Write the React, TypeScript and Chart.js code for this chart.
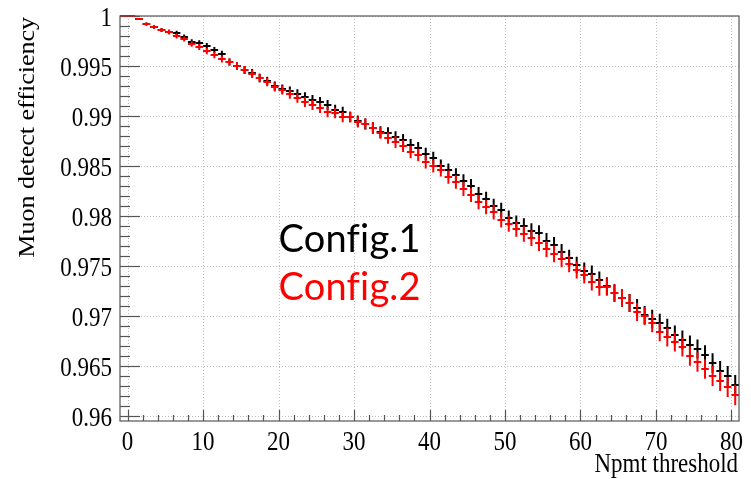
import React, { useEffect, useRef } from "react";
import { Chart, registerables } from "chart.js";

Chart.register(...registerables);

// Npmt threshold bin centres
const binCenters = [
  -0.5, 0.5, 1.5, 2.5, 3.5, 4.5, 5.5, 6.5, 7.5, 8.5, 9.5, 10.5, 11.5, 12.5, 13.5, 14.5,
  15.5, 16.5, 17.5, 18.5, 19.5, 20.5, 21.5, 22.5, 23.5, 24.5, 25.5, 26.5, 27.5, 28.5,
  29.5, 30.5, 31.5, 32.5, 33.5, 34.5, 35.5, 36.5, 37.5, 38.5, 39.5, 40.5, 41.5, 42.5,
  43.5, 44.5, 45.5, 46.5, 47.5, 48.5, 49.5, 50.5, 51.5, 52.5, 53.5, 54.5, 55.5, 56.5,
  57.5, 58.5, 59.5, 60.5, 61.5, 62.5, 63.5, 64.5, 65.5, 66.5, 67.5, 68.5, 69.5, 70.5,
  71.5, 72.5, 73.5, 74.5, 75.5, 76.5, 77.5, 78.5, 79.5, 80.5,
];

// Config.1 (black) efficiency
const config1 = [
  1, 1, 0.9997, 0.9992, 0.9989, 0.9986, 0.9984, 0.9983, 0.9979, 0.9974, 0.9973, 0.997,
  0.9966, 0.9962, 0.9954, 0.995, 0.9946, 0.9943, 0.9938, 0.9935, 0.993, 0.9927, 0.9925,
  0.9922, 0.9919, 0.9916, 0.9914, 0.9911, 0.9906, 0.9904, 0.9899, 0.9895, 0.9892, 0.9888,
  0.9884, 0.9883, 0.9879, 0.9876, 0.9871, 0.9868, 0.9862, 0.9858, 0.985, 0.9846, 0.9841,
  0.9835, 0.983, 0.9822, 0.9817, 0.981, 0.9806, 0.9798, 0.9793, 0.979, 0.9785, 0.9783,
  0.9775, 0.9771, 0.9764, 0.9758, 0.9751, 0.9745, 0.9742, 0.9736, 0.973, 0.9723, 0.9718,
  0.9713, 0.9708, 0.9701, 0.9697, 0.9693, 0.9688, 0.9681, 0.9676, 0.9671, 0.9667, 0.9661,
  0.9653, 0.9645, 0.964, 0.9631,
];

// Config.2 (red) efficiency
const config2 = [
  1, 1, 0.9997, 0.9992, 0.9989, 0.9986, 0.9984, 0.998, 0.9977, 0.9972, 0.9969, 0.9965,
  0.9961, 0.9957, 0.9954, 0.995, 0.9946, 0.9942, 0.9938, 0.9934, 0.9929, 0.9926, 0.9922,
  0.9918, 0.9914, 0.9911, 0.9908, 0.9904, 0.9903, 0.9899, 0.9899, 0.9894, 0.9892, 0.9888,
  0.9883, 0.9878, 0.9874, 0.987, 0.9864, 0.9861, 0.9854, 0.985, 0.9846, 0.9839, 0.9834,
  0.9827, 0.9821, 0.9814, 0.9809, 0.9804, 0.9796, 0.9792, 0.9787, 0.9782, 0.9778, 0.9773,
  0.9767, 0.9762, 0.9757, 0.9752, 0.9746, 0.9741, 0.9734, 0.9729, 0.9729, 0.9723, 0.9718,
  0.9713, 0.9704, 0.97, 0.9693, 0.9684, 0.9679, 0.9674, 0.9669, 0.966, 0.9654, 0.9647,
  0.964, 0.9635, 0.9629, 0.9621,
];

const xTicks = [0, 10, 20, 30, 40, 50, 60, 70, 80];
const yTicks = [0.96, 0.965, 0.97, 0.975, 0.98, 0.985, 0.99, 0.995, 1];
const xTickLabels = ["0", "10", "20", "30", "40", "50", "60", "70", "80"];
const yTickLabels = ["0.96", "0.965", "0.97", "0.975", "0.98", "0.985", "0.99", "0.995", "1"];

const xTitle = "Npmt threshold";
const yTitle = "Muon detect efficiency";

const seriesNames = ["Config.1", "Config.2"];
const seriesColors = ["#000000", "#ff0000"];
const labelPositions = [
  { x: 20, y: 0.9764 },
  { x: 20, y: 0.9716 },
];

const N_EVENTS = 35000; // binomial error sample size
const BIN_HALF_WIDTH = 0.5;

const SERIF = "'Liberation Serif', 'Times New Roman', serif";
const SQUEEZE = 0.82;

function buildPoints(values: number[]) {
  return values.map((v, i) => ({
    x: binCenters[i],
    y: v,
    xErr: BIN_HALF_WIDTH,
    yErr: Math.sqrt((v * (1 - v)) / N_EVENTS),
  }));
}

function squeezedText(ctx: any, text: string, x: number, y: number, align: string) {
  ctx.save();
  ctx.translate(x, y);
  ctx.scale(SQUEEZE, 1);
  ctx.textAlign = align;
  ctx.textBaseline = "alphabetic";
  ctx.fillText(text, 0, 0);
  ctx.restore();
}

const framePlugin = {
  id: "rootFrame",
  beforeDatasetsDraw(chart: any) {
    const { ctx, chartArea: a, scales } = chart;
    const xs = scales.x;
    const ys = scales.y;
    ctx.save();
    // dotted grid
    ctx.strokeStyle = "#bdbdbd";
    ctx.lineWidth = 1;
    ctx.setLineDash([1, 2]);
    xTicks.forEach((v) => {
      const px = Math.round(xs.getPixelForValue(v)) + 0.5;
      ctx.beginPath();
      ctx.moveTo(px, a.top);
      ctx.lineTo(px, a.bottom);
      ctx.stroke();
    });
    yTicks.forEach((v) => {
      const py = Math.round(ys.getPixelForValue(v)) + 0.5;
      ctx.beginPath();
      ctx.moveTo(a.left, py);
      ctx.lineTo(a.right, py);
      ctx.stroke();
    });
    ctx.setLineDash([]);
    // tick marks (inside)
    ctx.strokeStyle = "#555";
    ctx.lineWidth = 1.2;
    for (let k = 0; k <= 40; k++) {
      const v = 0.96 + k * 0.001;
      const py = Math.round(ys.getPixelForValue(v)) + 0.5;
      const len = k % 5 === 0 ? 20 : 10;
      ctx.beginPath();
      ctx.moveTo(a.left, py);
      ctx.lineTo(a.left + len, py);
      ctx.stroke();
    }
    for (let k = 0; k <= 40; k++) {
      const v = k * 2;
      const px = Math.round(xs.getPixelForValue(v)) + 0.5;
      const len = v % 10 === 0 ? 11 : 6;
      ctx.beginPath();
      ctx.moveTo(px, a.bottom);
      ctx.lineTo(px, a.bottom - len);
      ctx.stroke();
    }
    ctx.restore();
  },
  afterDatasetsDraw(chart: any) {
    const { ctx, chartArea: a, scales } = chart;
    const xs = scales.x;
    const ys = scales.y;
    ctx.save();
    // error-bar crosses
    chart.data.datasets.forEach((ds: any) => {
      ctx.strokeStyle = ds.borderColor;
      ctx.lineWidth = 2;
      ds.data.forEach((p: any) => {
        const px = xs.getPixelForValue(p.x);
        const py = ys.getPixelForValue(p.y);
        const x0 = xs.getPixelForValue(p.x - p.xErr);
        const x1 = xs.getPixelForValue(p.x + p.xErr);
        const y0 = ys.getPixelForValue(p.y - p.yErr);
        const y1 = ys.getPixelForValue(p.y + p.yErr);
        ctx.beginPath();
        ctx.moveTo(x0, py);
        ctx.lineTo(x1, py);
        if (Math.abs(y0 - y1) > 0.5) {
          ctx.moveTo(px, y0);
          ctx.lineTo(px, y1);
        }
        ctx.stroke();
      });
    });
    // frame
    ctx.strokeStyle = "#555";
    ctx.lineWidth = 1.2;
    ctx.strokeRect(a.left, a.top, a.right - a.left, a.bottom - a.top);

    // tick labels
    ctx.fillStyle = "#000";
    ctx.font = `28px ${SERIF}`;
    yTicks.forEach((v, i) => {
      squeezedText(ctx, yTickLabels[i], a.left - 8, ys.getPixelForValue(v) + 9.7, "right");
    });
    xTicks.forEach((v, i) => {
      squeezedText(ctx, xTickLabels[i], xs.getPixelForValue(v), a.bottom + 29, "center");
    });
    // axis titles
    squeezedText(ctx, xTitle, a.right - 1, 472, "right");
    ctx.save();
    ctx.font = `26px ${SERIF}`;
    ctx.translate(34, a.top + 1);
    ctx.rotate(-Math.PI / 2);
    ctx.scale(1, 0.85);
    ctx.textAlign = "right";
    ctx.textBaseline = "alphabetic";
    ctx.fillText(yTitle, 0, 0);
    ctx.restore();

    // series labels
    ctx.font = "38px Lato";
    ctx.textAlign = "left";
    ctx.textBaseline = "alphabetic";
    try {
      (ctx as any).letterSpacing = "0.2px";
    } catch (e) {
      /* ignore */
    }
    seriesNames.forEach((name, i) => {
      ctx.fillStyle = seriesColors[i];
      ctx.fillText(
        name,
        xs.getPixelForValue(labelPositions[i].x),
        ys.getPixelForValue(labelPositions[i].y)
      );
    });
    ctx.restore();
  },
};

export default function App() {
  const canvasRef = useRef<HTMLCanvasElement | null>(null);

  useEffect(() => {
    if (!canvasRef.current) return;
    const chart = new Chart(canvasRef.current, {
      type: "scatter",
      data: {
        datasets: [
          {
            label: seriesNames[0],
            data: buildPoints(config1),
            borderColor: seriesColors[0],
            backgroundColor: seriesColors[0],
            pointRadius: 0,
            showLine: false,
          },
          {
            label: seriesNames[1],
            data: buildPoints(config2),
            borderColor: seriesColors[1],
            backgroundColor: seriesColors[1],
            pointRadius: 0,
            showLine: false,
          },
        ] as any,
      },
      options: {
        animation: false,
        responsive: true,
        maintainAspectRatio: false,
        layout: { padding: { left: 0, top: 16, right: 12, bottom: 0 } },
        plugins: {
          legend: { display: false },
          tooltip: { enabled: false },
        },
        scales: {
          x: {
            type: "linear",
            min: -1,
            max: 81,
            afterBuildTicks: (scale: any) => {
              scale.ticks = xTicks.map((v) => ({ value: v }));
            },
            afterFit: (scale: any) => {
              scale.height = 58;
            },
            grid: { display: false, drawTicks: false },
            border: { display: false },
            ticks: { display: false },
            title: { display: false, text: xTitle },
          },
          y: {
            type: "linear",
            min: 0.9595,
            max: 1.0,
            afterBuildTicks: (scale: any) => {
              scale.ticks = yTicks.map((v) => ({ value: v }));
            },
            afterFit: (scale: any) => {
              scale.width = 120;
            },
            grid: { display: false, drawTicks: false },
            border: { display: false },
            ticks: { display: false },
            title: { display: false, text: yTitle },
          },
        },
      } as any,
      plugins: [framePlugin],
    });
    return () => chart.destroy();
  }, []);

  return (
    <div style={{ position: "fixed", left: 0, top: 0, width: 751, height: 479 }}>
      <canvas ref={canvasRef} />
    </div>
  );
}
